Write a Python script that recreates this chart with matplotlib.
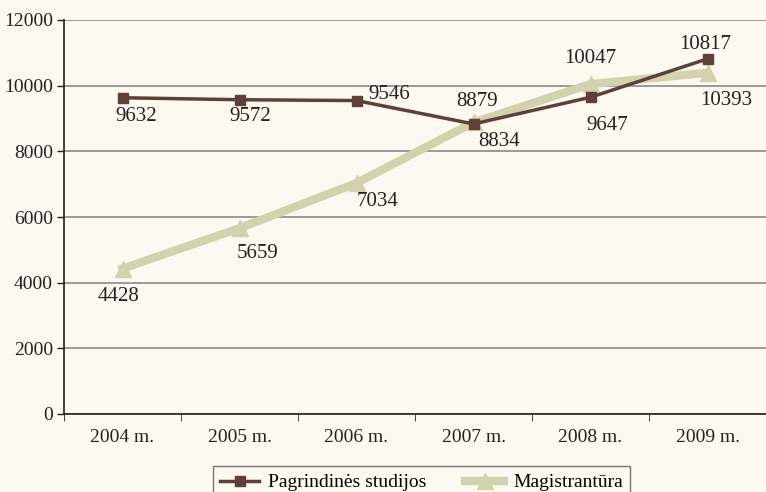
import matplotlib.pyplot as plt
import numpy as np

# Data
years = ['2004 m.', '2005 m.', '2006 m.', '2007 m.', '2008 m.', '2009 m.']
pagrindines = [9632, 9572, 9546, 8834, 9647, 10817]
magistrantura = [4428, 5659, 7034, 8879, 10047, 10393]

# label offsets in pixels (dx, dy)
pag_offsets = [(14, -19), (11, -17), (33, 6), (26, -18), (17, -28), (-2, 14)]
mag_offsets = [(-4, -28), (18, -25), (21, -18), (4, 21), (0, 26), (19, -28)]

bg = '#fdf8f0'
brown = '#5e4039'
sage = '#d4d2ae'

plt.rcParams['font.family'] = 'Liberation Serif'
fig = plt.figure(figsize=(7.66, 4.92), dpi=100, facecolor=bg)
ax = fig.add_axes([64 / 766, 1 - 414 / 492, 1 - 64 / 766, (414 - 20) / 492])
ax.set_facecolor(bg)

x = np.arange(len(years))
l_mag, = ax.plot(x, magistrantura, color=sage, lw=6, marker='^', markersize=11,
                 label='Magistrantūra', zorder=2)
l_pag, = ax.plot(x, pagrindines, color=brown, lw=2.5, marker='s', markersize=7,
                 label='Pagrindinės studijos', zorder=3)

for xi, v, (dx, dy) in zip(x, pagrindines, pag_offsets):
    ax.annotate(str(v), (xi, v), xytext=(dx, dy), textcoords='offset pixels',
                ha='center', va='center', fontsize=15, color='#222222')
for xi, v, (dx, dy) in zip(x, magistrantura, mag_offsets):
    ax.annotate(str(v), (xi, v), xytext=(dx, dy), textcoords='offset pixels',
                ha='center', va='center', fontsize=15, color='#222222')

ax.set_xlim(-0.5, len(years) - 0.5)
ax.set_ylim(0, 12000)
ax.set_yticks(range(0, 12001, 2000))
ax.set_xticks(x)
ax.set_xticklabels(years)
ax.set_xticks(np.arange(-0.5, len(years), 1), minor=True)
ax.tick_params(axis='x', which='major', length=0, pad=11, labelsize=14, colors='#222222')
ax.tick_params(axis='x', which='minor', length=5, color='#222222', direction='out')
ax.tick_params(axis='y', length=5, labelsize=14, colors='#222222', width=1, pad=3)
ax.grid(axis='y', color='#8a8a8a', lw=1.2)
ax.set_axisbelow(True)
for s in ['top', 'right']:
    ax.spines[s].set_visible(False)
for s in ['left', 'bottom']:
    ax.spines[s].set_color('#222222')
    ax.spines[s].set_linewidth(1.2)

leg = fig.legend([l_pag, l_mag], ['Pagrindinės studijos', 'Magistrantūra'],
                 loc='upper center', bbox_to_anchor=(421.5 / 766, 1 - 466 / 492),
                 borderaxespad=0, ncol=2, frameon=True, fancybox=False, fontsize=14,
                 facecolor=bg, edgecolor='#555555', borderpad=0.4,
                 handlelength=2.0, columnspacing=2.0, handletextpad=0.45)
leg.get_frame().set_linewidth(1)

fig.savefig('out.png', dpi=100, facecolor=bg)
